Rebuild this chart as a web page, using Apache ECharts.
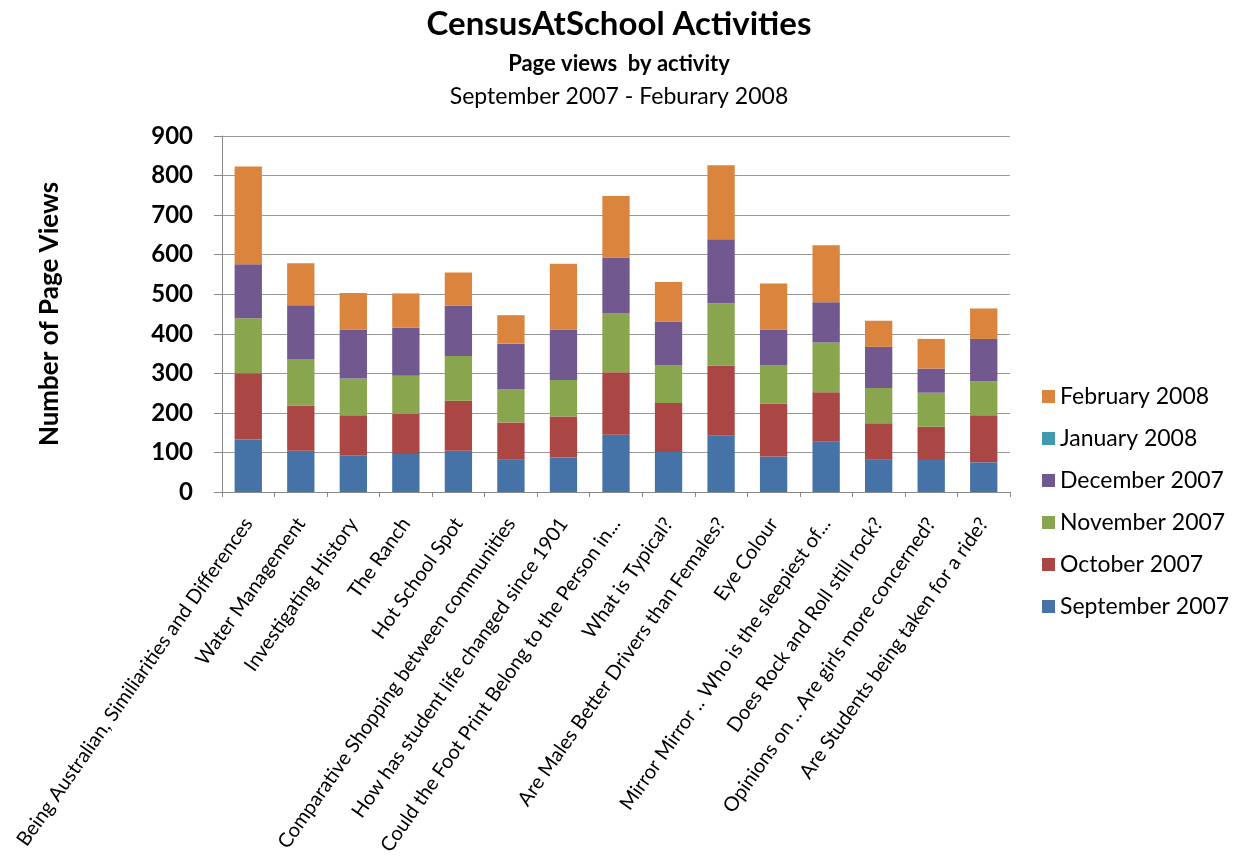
<!DOCTYPE html>
<html>
<head>
<meta charset="utf-8">
<script src="https://cdn.jsdelivr.net/npm/echarts@6/dist/echarts.min.js"></script>
<style>
html,body{margin:0;padding:0;background:#fff;}
#chart{width:1238px;height:867px;}
</style>
</head>
<body>
<div id="chart"></div>
<script>
const categories = [
  "Being Australian, Similiarities and Differences",
  "Water Management",
  "Investigating History",
  "The Ranch",
  "Hot School Spot",
  "Comparative Shopping between communities",
  "How has student life changed since 1901",
  "Could the Foot Print Belong to the Person in...",
  "What is Typical?",
  "Are Males Better Drivers than Females?",
  "Eye Colour",
  "Mirror Mirror .. Who is the sleepiest of...",
  "Does Rock and Roll still rock?",
  "Opinions on .. Are girls more concerned?",
  "Are Students being taken for a ride?"
];
const september2007 = [133, 104, 93, 96, 104, 83, 87, 145, 101, 142, 90, 127, 83, 81, 75];
const october2007   = [167, 114, 101, 101, 127, 93, 104, 158, 124, 178, 133, 125, 91, 84, 119];
const november2007  = [139, 118, 93, 97, 113, 83, 92, 148, 95, 157, 98, 126, 89, 86, 86];
const december2007  = [137, 136, 124, 122, 127, 116, 127, 142, 111, 162, 90, 102, 104, 61, 107];
const january2008   = [0, 0, 0, 0, 0, 0, 0, 0, 0, 0, 0, 0, 0, 0, 0];
const february2008  = [247, 106, 92, 86, 84, 72, 167, 155, 100, 187, 116, 144, 66, 75, 77];
const yTicks = [0, 100, 200, 300, 400, 500, 600, 700, 800, 900];

const seriesNames = ["September 2007", "October 2007", "November 2007", "December 2007", "January 2008", "February 2008"];
const seriesData = [september2007, october2007, november2007, december2007, january2008, february2008];
const colors = ["#4572A7", "#AA4643", "#89A54E", "#71588F", "#4198AF", "#DB843D"];

const FONT = "Lato, 'Open Sans', sans-serif";
const chart = echarts.init(document.getElementById('chart'), null, {renderer: 'canvas'});
chart.setOption({
  animation: false,
  backgroundColor: '#fff',
  textStyle: {fontFamily: FONT, color: '#000'},
  title: [
    {text: 'CensusAtSchool Activities', left: 'center', top: 3,
     textStyle: {fontFamily: FONT, fontSize: 33, fontWeight: 'bold', color: '#000'}},
    {text: 'Page views  by activity', left: 'center', top: 48,
     textStyle: {fontFamily: FONT, fontSize: 22, fontWeight: 'bold', color: '#000'}},
    {text: 'September 2007 - Feburary 2008', left: 'center', top: 80,
     textStyle: {fontFamily: FONT, fontSize: 23, fontWeight: 'normal', color: '#000'}}
  ],
  legend: {
    orient: 'vertical',
    left: 1037,
    top: 380,
    itemWidth: 13,
    itemHeight: 13,
    itemGap: 19,
    icon: 'rect',
    data: seriesNames.slice().reverse(),
    textStyle: {fontFamily: FONT, fontSize: 23, color: '#000'}
  },
  grid: {left: 222, right: 228, top: 136, bottom: 375, containLabel: false},
  xAxis: {
    type: 'category',
    data: categories,
    axisLine: {lineStyle: {color: '#888', width: 1}},
    axisTick: {show: true, length: 5, lineStyle: {color: '#888'}},
    axisLabel: {interval: 0, rotate: 55, fontFamily: FONT, fontSize: 20, color: '#000', margin: 28}
  },
  yAxis: {
    type: 'value',
    min: yTicks[0],
    max: yTicks[yTicks.length - 1],
    interval: 100,
    name: 'Number of Page Views',
    nameLocation: 'middle',
    nameGap: 159,
    nameRotate: 90,
    nameTextStyle: {fontFamily: FONT, fontSize: 26, fontWeight: 'bold', color: '#000'},
    axisLine: {show: true, lineStyle: {color: '#888', width: 1}},
    axisTick: {show: true, length: 8, lineStyle: {color: '#888'}},
    axisLabel: {fontFamily: FONT, fontSize: 24, fontWeight: 'bold', color: '#000', margin: 29},
    splitLine: {lineStyle: {color: '#999', width: 1}}
  },
  series: seriesNames.map((name, i) => ({
    name: name,
    type: 'bar',
    stack: 'total',
    data: seriesData[i],
    barWidth: '52%',
    itemStyle: {color: colors[i]}
  }))
});
</script>
</body>
</html>
